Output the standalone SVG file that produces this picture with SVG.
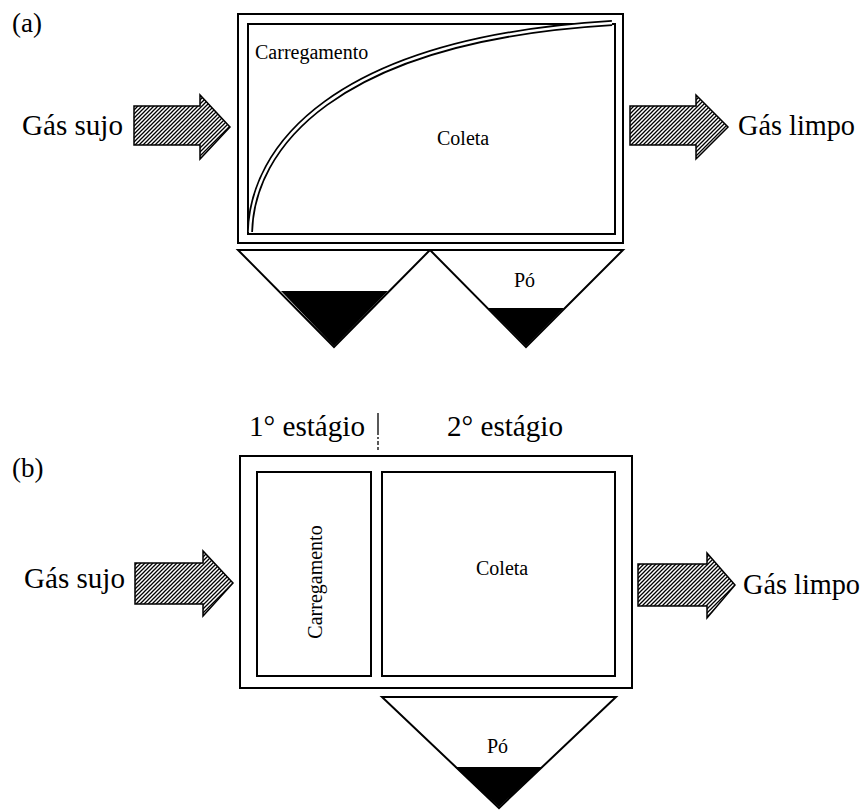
<svg xmlns="http://www.w3.org/2000/svg" width="868" height="812" viewBox="0 0 868 812" font-family="'Liberation Serif', 'Times New Roman', serif">
<style>
text{font-family:'Liberation Serif','Times New Roman',serif;fill:#000}
.big{font-size:30px}
.sm{font-size:20px}
.box{fill:none;stroke:#000;stroke-width:2}
.arr{fill:url(#hatch);stroke:#000;stroke-width:1.5;stroke-linejoin:miter}
.hop{fill:#fff;stroke:#000;stroke-width:2;stroke-linejoin:miter}
.curve{fill:none}
</style>
<defs>
<pattern id="hatch" patternUnits="userSpaceOnUse" width="4" height="4">
<rect width="4" height="4" fill="#fff"/>
<path d="M-1,1 l2,-2 M0,4 l4,-4 M3,5 l2,-2" stroke="#000" stroke-width="1.3"/>
</pattern>
</defs>
<rect width="868" height="812" fill="#fff"/>

<g id="label-a"><text x="12" y="32" font-size="27">(a)</text></g>

<g id="a-chamber">
<rect class="box" x="238" y="14" width="385" height="229"/>
<rect class="box" x="248" y="24" width="367" height="210"/>
<path class="curve" d="M250,232 C252,150 330,40 612,23" stroke="#000" stroke-width="6"/>
<path class="curve" d="M250,232 C252,150 330,40 612,23" stroke="#fff" stroke-width="2.5"/>
<text class="sm" x="255" y="59">Carregamento</text>
<text class="sm" x="437" y="145">Coleta</text>
</g>

<g id="a-hopper1">
<path class="hop" d="M238,250 L430,250 L334,347 Z"/>
<path d="M281,291 L388,291 L334,346 Z" fill="#000"/>
</g>
<g id="a-hopper2">
<path class="hop" d="M430,250 L623,250 L526,347 Z"/>
<path d="M488,308 L564,308 L526,346 Z" fill="#000"/>
<text class="sm" x="514" y="287">Pó</text>
</g>

<g id="a-in">
<text class="big" x="22" y="135" textLength="101" lengthAdjust="spacingAndGlyphs">Gás sujo</text>
<path class="arr" d="M134,106 L200,106 L200,95 L230,127 L200,159 L200,145 L134,145 Z"/>
</g>
<g id="a-out">
<path class="arr" d="M630,106 L696,106 L696,95 L728,127 L696,159 L696,145 L630,145 Z"/>
<text class="big" x="738" y="135" textLength="117" lengthAdjust="spacingAndGlyphs">Gás limpo</text>
</g>

<g id="label-b"><text x="12" y="477" font-size="27">(b)</text></g>

<g id="b-stages">
<text class="big" x="249" y="436" textLength="116" lengthAdjust="spacingAndGlyphs">1° estágio</text>
<line x1="378" y1="413" x2="378" y2="450" stroke="#000" stroke-width="1.3" stroke-dasharray="22,2,2,2,4,2"/>
<text class="big" x="447" y="436" textLength="116" lengthAdjust="spacingAndGlyphs">2° estágio</text>
</g>

<g id="b-chamber">
<rect class="box" x="240" y="456" width="392" height="232"/>
</g>
<g id="b-loading">
<rect class="box" x="257" y="472" width="114" height="204"/>
<text class="sm" transform="translate(322,582) rotate(-90)" text-anchor="middle">Carregamento</text>
</g>
<g id="b-collection">
<rect class="box" x="382" y="472" width="233" height="204"/>
<text class="sm" x="476" y="575">Coleta</text>
</g>

<g id="b-hopper">
<path class="hop" d="M382,697 L616,697 L499,808 Z"/>
<path d="M455,767 L542,767 L499,807 Z" fill="#000"/>
<text class="sm" x="487" y="753">Pó</text>
</g>

<g id="b-in">
<text class="big" x="24" y="588" textLength="101" lengthAdjust="spacingAndGlyphs">Gás sujo</text>
<path class="arr" d="M135,563 L203,563 L203,551 L233,583 L203,616 L203,604 L135,604 Z"/>
</g>
<g id="b-out">
<path class="arr" d="M638,564 L707,564 L707,553 L735,585 L707,618 L707,606 L638,606 Z"/>
<text class="big" x="743" y="594" textLength="117" lengthAdjust="spacingAndGlyphs">Gás limpo</text>
</g>
</svg>
